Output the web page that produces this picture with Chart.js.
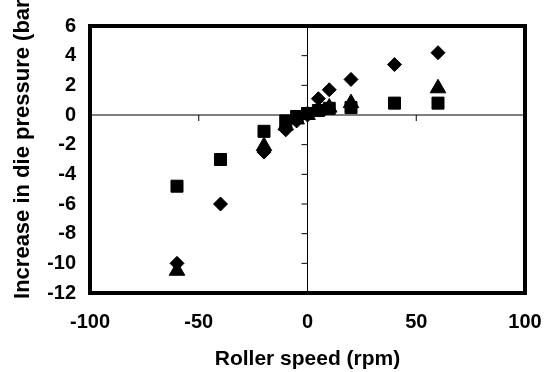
<!DOCTYPE html>
<html>
<head>
<meta charset="utf-8">
<script src="https://cdn.jsdelivr.net/npm/chart.js@4/dist/chart.umd.min.js"></script>
<style>
  body { margin: 0; background: #fff; }
</style>
</head>
<body>
<canvas id="chart" width="545" height="372"></canvas>
<script>
// roller speed (rpm) and pressure increase (bar) per series
const speedDiamond = [-60, -40, -20, -10, -5, 0, 5, 10, 20, 40, 60];
const pressureDiamond = [-10.0, -6.0, -2.5, -1.0, -0.4, 0.0, 1.1, 1.7, 2.4, 3.4, 4.2];

const speedTriangle = [-60, -20, -10, -5, 0, 5, 10, 20, 60];
const pressureTriangle = [-10.5, -2.1, -0.7, -0.3, 0.0, 0.3, 0.5, 0.8, 1.8];

const speedSquare = [-60, -40, -20, -10, -5, 0, 5, 10, 20, 40, 60];
const pressureSquare = [-4.8, -3.0, -1.1, -0.4, -0.1, 0.1, 0.3, 0.45, 0.5, 0.8, 0.8];

const xTicks = [-100, -50, 0, 50, 100];
const yTicks = [-12, -10, -8, -6, -4, -2, 0, 2, 4, 6];

const xTitle = 'Roller speed (rpm)';
const yTitle = 'Increase in die pressure (bar)';

function toPoints(xs, ys) {
    return xs.map((x, i) => ({x: x, y: ys[i]}));
}

// frame, axes through zero with inner tick marks, rotated y title
const crossAxes = {
    id: 'crossAxes',
    beforeDatasetsDraw(chart) {
        const {ctx, chartArea: a, scales: {x, y}} = chart;
        const x0 = x.getPixelForValue(0);
        const y0 = y.getPixelForValue(0);
        ctx.save();
        ctx.strokeStyle = '#000';
        ctx.lineWidth = 1;
        ctx.beginPath();
        ctx.moveTo(x0, a.top);
        ctx.lineTo(x0, a.bottom);
        ctx.moveTo(a.left, y0);
        ctx.lineTo(a.right, y0);
        yTicks.forEach(v => {
            const py = y.getPixelForValue(v);
            ctx.moveTo(x0 - 6, py);
            ctx.lineTo(x0, py);
        });
        xTicks.forEach(v => {
            const px = x.getPixelForValue(v);
            ctx.moveTo(px, y0);
            ctx.lineTo(px, y0 + 6);
        });
        ctx.stroke();
        ctx.lineWidth = 4;
        ctx.strokeRect(a.left, a.top, a.right - a.left, a.bottom - a.top);
        ctx.restore();
    },
    afterDraw(chart) {
        const {ctx, chartArea: a} = chart;
        ctx.save();
        ctx.translate(23, (a.top + a.bottom) / 2 - 14);
        ctx.rotate(-Math.PI / 2);
        ctx.font = 'bold 22px "Liberation Sans", Arial, sans-serif';
        ctx.fillStyle = '#000';
        ctx.textAlign = 'center';
        ctx.textBaseline = 'middle';
        ctx.fillText(yTitle, 0, 0);
        ctx.restore();
    }
};

const tickFont = {family: '"Liberation Sans", Arial, sans-serif', size: 20, weight: 'bold'};

new Chart(document.getElementById('chart'), {
    type: 'scatter',
    data: {
        datasets: [{
            label: 'triangle',
            data: toPoints(speedTriangle, pressureTriangle),
            pointStyle: 'triangle',
            pointRadius: 9,
            backgroundColor: '#000',
            borderColor: '#000',
            borderWidth: 1
        }, {
            label: 'diamond',
            data: toPoints(speedDiamond, pressureDiamond),
            pointStyle: 'rectRot',
            pointRadius: 7,
            backgroundColor: '#000',
            borderColor: '#000',
            borderWidth: 1
        }, {
            label: 'square',
            data: toPoints(speedSquare, pressureSquare),
            pointStyle: 'rect',
            pointRadius: 8.5,
            backgroundColor: '#000',
            borderColor: '#000',
            borderWidth: 1
        }]
    },
    options: {
        responsive: false,
        animation: false,
        layout: {
            padding: {left: 48, right: 20, top: 22, bottom: 0}
        },
        plugins: {
            legend: {display: false},
            tooltip: {enabled: false}
        },
        scales: {
            x: {
                type: 'linear',
                min: -100,
                max: 100,
                afterBuildTicks: scale => {
                    scale.ticks = xTicks.map(v => ({value: v}));
                },
                afterFit: scale => {
                    scale.height = 79;
                    scale.paddingLeft = 0;
                    scale.paddingRight = 0;
                },
                grid: {display: false, drawTicks: false},
                border: {display: false},
                ticks: {color: '#000', font: tickFont, padding: 17, maxRotation: 0},
                title: {
                    display: true,
                    text: xTitle,
                    color: '#000',
                    font: {family: '"Liberation Sans", Arial, sans-serif', size: 21, weight: 'bold'},
                    padding: {top: 12, bottom: 0}
                }
            },
            y: {
                type: 'linear',
                min: -12,
                max: 6,
                afterBuildTicks: scale => {
                    scale.ticks = yTicks.map(v => ({value: v}));
                },
                afterFit: scale => {
                    scale.width = 42;
                },
                grid: {display: false, drawTicks: false},
                border: {display: false},
                ticks: {color: '#000', font: tickFont, padding: 14}
            }
        }
    },
    plugins: [crossAxes]
});
</script>
</body>
</html>
